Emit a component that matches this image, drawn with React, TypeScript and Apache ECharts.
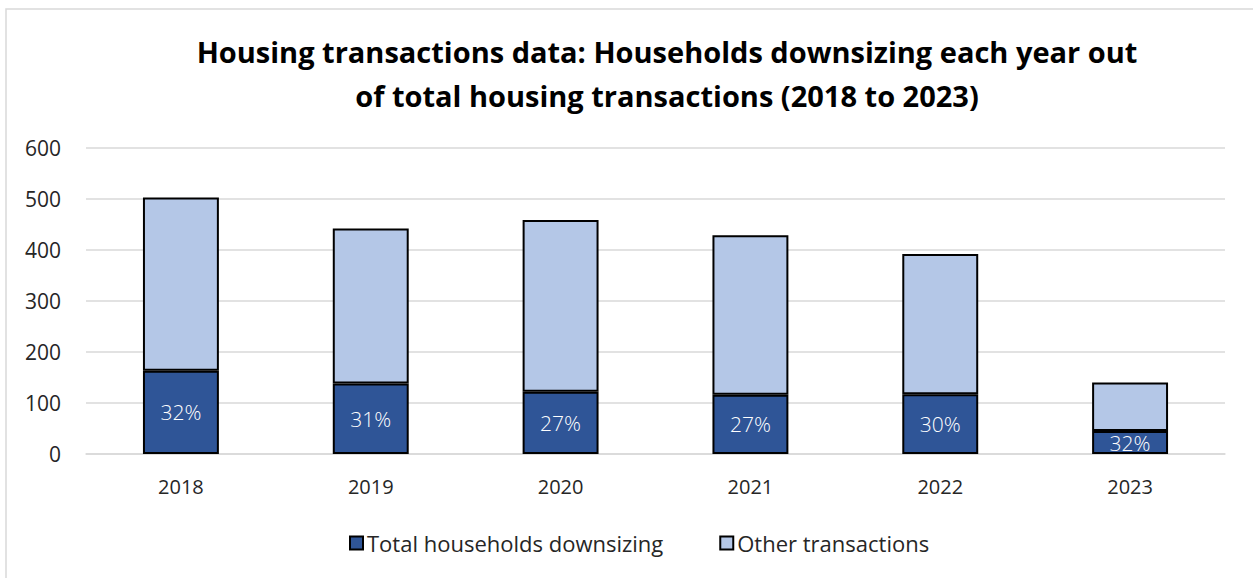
import React, { useEffect, useRef } from "react";
import * as echarts from "echarts";

const years = ["2018", "2019", "2020", "2021", "2022", "2023"];
const downsizing = [163, 138, 122, 116, 117, 45];
const otherTransactions = [340, 304, 337, 313, 275, 95];
const yTicks = { min: 0, max: 600, interval: 100 };

const FONT = "'Open Sans', 'Noto Sans', sans-serif";

export default function App() {
  const ref = useRef<HTMLDivElement>(null);
  useEffect(() => {
    if (!ref.current) return;
    const chart = echarts.init(ref.current, undefined, { renderer: "svg" });
    const pct = downsizing.map(
      (d, i) => Math.round((d / (d + otherTransactions[i])) * 100) + "%"
    );
    chart.setOption({
      animation: false,
      backgroundColor: "#ffffff",
      textStyle: { fontFamily: FONT },
      graphic: [
        {
          type: "rect",
          shape: { x: 6, y: 9, width: 1400, height: 700 },
          style: { fill: "none", stroke: "#d9d9d9", lineWidth: 1.5 },
          silent: true,
        },
      ],
      title: {
        text: "Housing transactions data: Households downsizing each year out\nof total housing transactions (2018 to 2023)",
        left: 662,
        textAlign: "center",
        top: 24,
        textStyle: {
          fontFamily: FONT,
          fontSize: 29,
          fontWeight: "bold",
          color: "#000000",
          lineHeight: 44,
        },
      },
      legend: {
        bottom: 19,
        left: 344,
        itemWidth: 13,
        itemHeight: 13,
        itemGap: 56,
        icon: "rect",
        textStyle: { fontFamily: FONT, fontSize: 22, color: "#262626", padding: [0, 0, 0, -1] },
        data: ["Total households downsizing", "Other transactions"],
      },
      grid: { left: 86, right: 28, top: 148, bottom: 124, containLabel: false },
      xAxis: {
        type: "category",
        data: years,
        axisTick: { show: false },
        axisLine: { lineStyle: { color: "#d9d9d9", width: 1.5 } },
        axisLabel: { fontFamily: FONT, fontSize: 20, color: "#262626", margin: 22 },
      },
      yAxis: {
        type: "value",
        min: yTicks.min,
        max: yTicks.max,
        interval: yTicks.interval,
        axisLine: { show: false },
        axisTick: { show: false },
        splitLine: { lineStyle: { color: "#d9d9d9", width: 1.5 } },
        axisLabel: { fontFamily: FONT, fontSize: 21, color: "#262626", margin: 25 },
      },
      series: [
        {
          name: "Total households downsizing",
          type: "bar",
          stack: "total",
          barWidth: "40%",
          data: downsizing,
          itemStyle: { color: "#2F5597", borderColor: "#000000", borderWidth: 2 },
          label: {
            show: true,
            position: "inside",
            formatter: (p: any) => pct[p.dataIndex],
            fontFamily: FONT,
            fontSize: 21,
            fontWeight: 300,
            color: "#ffffff",
          },
        },
        {
          name: "Other transactions",
          type: "bar",
          stack: "total",
          barWidth: "40%",
          data: otherTransactions,
          itemStyle: { color: "#B4C7E7", borderColor: "#000000", borderWidth: 2 },
        },
      ],
    });
    return () => chart.dispose();
  }, []);
  return (
    <div
      ref={ref}
      style={{ position: "fixed", left: 0, top: 0, width: 1253, height: 578 }}
    />
  );
}
